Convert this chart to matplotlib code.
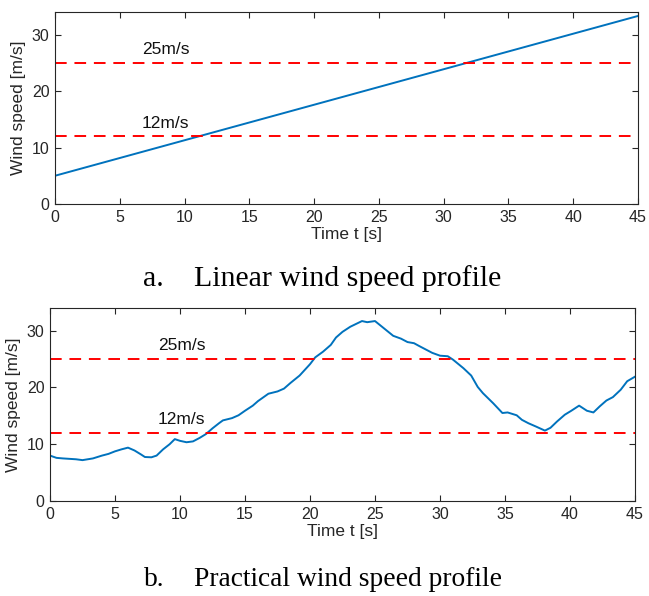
import matplotlib
matplotlib.use('Agg')
import matplotlib.pyplot as plt
import numpy as np

plt.rcParams['font.family'] = ['Liberation Sans', 'DejaVu Sans']

# linear profile
t_lin = [0, 45]
v_lin = [5.0, 33.3]

# practical profile
t_prac = [0, 0.5, 1, 2, 2.5, 3.3, 4, 4.5, 5, 5.5, 6, 6.5, 7, 7.3, 7.8, 8.2, 8.7, 9.2, 9.6,
          10, 10.5, 11, 11.5, 12, 12.5, 13, 13.3, 14, 14.5, 15, 15.6, 16, 16.8, 17.5, 18,
          18.5, 19.2, 20, 20.4, 21, 21.6, 22.0, 22.5, 23.1, 24, 24.4, 25, 25.7, 26.4, 27,
          27.5, 28, 28.4, 28.9, 29.4, 30, 30.6, 31, 31.8, 32.4, 32.9, 33.3, 34.1, 34.8,
          35.2, 35.9, 36.3, 36.8, 37.4, 38.07, 38.5, 39, 39.6, 40.1, 40.7, 41.3, 41.8,
          42.3, 42.8, 43.3, 43.9, 44.4, 45]
v_prac = [8.0, 7.6, 7.5, 7.35, 7.2, 7.5, 8.0, 8.3, 8.75, 9.1, 9.4, 8.9, 8.2, 7.75, 7.7, 8.0,
          9.1, 10.0, 10.9, 10.6, 10.35, 10.5, 11.1, 11.8, 12.8, 13.7, 14.2, 14.6, 15.1, 15.9,
          16.8, 17.6, 18.9, 19.3, 19.8, 20.8, 22.1, 24.1, 25.3, 26.3, 27.5, 28.8, 29.8, 30.7,
          31.7, 31.5, 31.7, 30.4, 29.1, 28.6, 28.0, 27.8, 27.3, 26.7, 26.1, 25.6, 25.5, 24.9,
          23.4, 22.1, 20.1, 19.0, 17.2, 15.5, 15.6, 15.1, 14.3, 13.7, 13.1, 12.4, 12.9, 14.0,
          15.2, 15.9, 16.8, 15.9, 15.6, 16.7, 17.7, 18.3, 19.6, 21.1, 21.9]

limits = [25, 12]
limit_labels = ['25m/s', '12m/s']

fig = plt.figure(figsize=(6.49, 5.96), dpi=100)
W, H = 649, 596

def style(ax):
    ax.set_xlim(0, 45)
    ax.set_ylim(0, 34)
    ax.set_xticks(np.arange(0, 46, 5))
    ax.set_yticks([0, 10, 20, 30])
    ax.tick_params(direction='in', top=True, right=True, labelsize=11.5, length=4,
                   colors='#262626', pad=4)
    for s in ax.spines.values():
        s.set_color('#262626')
        s.set_linewidth(0.8)
    ax.set_xlabel('Time t [s]', fontsize=12.5, labelpad=2, color='#262626')
    ax.set_ylabel('Wind speed [m/s]', fontsize=12.5, labelpad=4, color='#262626')

def add_limits(ax, xtext):
    for v, lab in zip(limits, limit_labels):
        ax.axhline(v, color='r', ls=(0, (6, 4)), lw=1.4)
        ax.text(xtext, v + 1.0, lab, fontsize=12.5, va='bottom', color='#111111')

ax1 = fig.add_axes([55 / W, 1 - 204 / H, (638 - 55) / W, (204 - 12) / H])
ax1.plot(t_lin, v_lin, color='#0072BD', lw=1.4)
add_limits(ax1, 6.7)
style(ax1)

ax2 = fig.add_axes([50 / W, 1 - 501 / H, (635 - 50) / W, (501 - 308) / H])
ax2.plot(t_prac, v_prac, color='#0072BD', lw=1.4)
add_limits(ax2, 8.3)
style(ax2)

cap = dict(va='center', ha='left', family='Liberation Serif')
fig.text(143 / W, 1 - 279 / H, 'a.', fontsize=21.5, **cap)
fig.text(194 / W, 1 - 279 / H, 'Linear wind speed profile', fontsize=21.5, **cap)
fig.text(144 / W, 1 - 580 / H, 'b.', fontsize=19.8, **cap)
fig.text(194 / W, 1 - 580 / H, 'Practical wind speed profile', fontsize=19.8, **cap)

fig.savefig('out.png', dpi=100)
